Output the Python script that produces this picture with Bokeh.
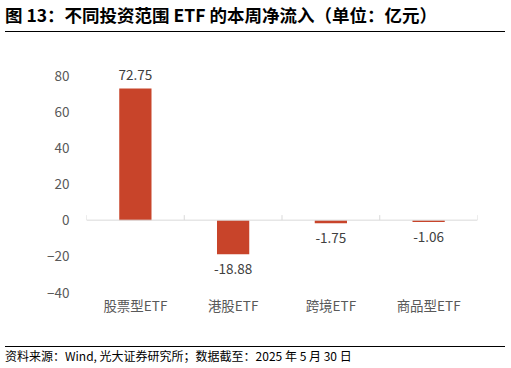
from bokeh.plotting import figure
from bokeh.models import Div, FixedTicker, Span, ColumnDataSource, Range1d
from bokeh.layouts import column
from bokeh.core.properties import value
from bokeh.embed import file_html
from bokeh.resources import INLINE

categories = ["股票型ETF", "港股ETF", "跨境ETF", "商品型ETF"]
flows = [72.75, -18.88, -1.75, -1.06]
flow_labels = ["72.75", "-18.88", "-1.75", "-1.06"]
y_ticks = [-40, -20, 0, 20, 40, 60, 80]

FONT = "Noto Sans CJK SC"
BAR = "#C8442A"

xs = [i + 0.5 for i in range(len(categories))]
src = ColumnDataSource(dict(
    x=xs, top=flows, lab=flow_labels,
    base=["bottom" if v >= 0 else "top" for v in flows],
    off=[-9 if v >= 0 else 10 for v in flows],
))

p = figure(width=511, height=310, output_backend="svg", toolbar_location=None,
           x_range=Range1d(0, len(categories)), y_range=Range1d(-40, 88.3),
           min_border_left=86, min_border_right=34, min_border_top=28, min_border_bottom=50,
           margin=(0, 0, 0, 0))
p.outline_line_color = None
p.xgrid.visible = False
p.ygrid.visible = False
p.background_fill_color = None
p.border_fill_color = "white"

p.vbar(x="x", top="top", bottom=0, width=0.33, source=src, fill_color=BAR, line_color=None)

# zero line and category boundary ticks
p.add_layout(Span(location=0, dimension="width", line_color="#D9D9D9", line_width=1))
bx = list(range(len(categories) + 1))
p.segment(x0=bx, x1=bx, y0=[0] * len(bx), y1=[2.8] * len(bx), line_color="#D9D9D9", line_width=1)

p.text(x="x", y="top", text="lab", source=src, text_align="center",
       text_baseline="base", y_offset="off", text_font=value(FONT),
       text_font_size="13.5px", text_color="#404040")

p.yaxis.ticker = FixedTicker(ticks=y_ticks)
p.yaxis.axis_line_color = None
p.yaxis.major_tick_line_color = None
p.yaxis.minor_tick_line_color = None
p.yaxis.major_label_standoff = 11
p.yaxis.major_label_text_font = FONT
p.yaxis.major_label_text_font_size = "13.5px"
p.yaxis.major_label_text_color = "#595959"

p.xaxis.ticker = FixedTicker(ticks=xs)
p.xaxis.major_label_overrides = {x: c for x, c in zip(xs, categories)}
p.xaxis.axis_line_color = None
p.xaxis.major_tick_line_color = None
p.xaxis.minor_tick_line_color = None
p.xaxis.major_tick_in = 0
p.xaxis.major_tick_out = 0
p.xaxis.major_label_standoff = 2
p.xaxis.major_label_text_font = FONT
p.xaxis.major_label_text_font_size = "13.5px"
p.xaxis.major_label_text_color = "#595959"

title = Div(text='<div style="margin-left:5px;width:500px;height:32px;border-bottom:1.5px solid #000;'
                 'font-family:\'Noto Sans CJK SC\';font-weight:bold;font-size:17.5px;line-height:30px;color:#000;'
                 'box-sizing:border-box;white-space:nowrap;">图 13：不同投资范围 ETF 的本周净流入（单位：亿元）</div>',
            width=511, height=32, margin=(0, 0, 0, 0))
footer = Div(text='<div style="margin-left:5px;margin-top:4px;width:500px;border-top:1.2px solid #000;'
                  'font-family:\'Noto Sans CJK SC\';font-size:12px;line-height:18px;color:#000;white-space:nowrap;">'
                  '资料来源：Wind, 光大证券研究所；数据截至：2025 年 5 月 30 日</div>',
             width=511, height=26, margin=(0, 0, 0, 0))

layout = column(title, p, footer, spacing=0)
open("out.html", "w").write(file_html(layout, INLINE))
